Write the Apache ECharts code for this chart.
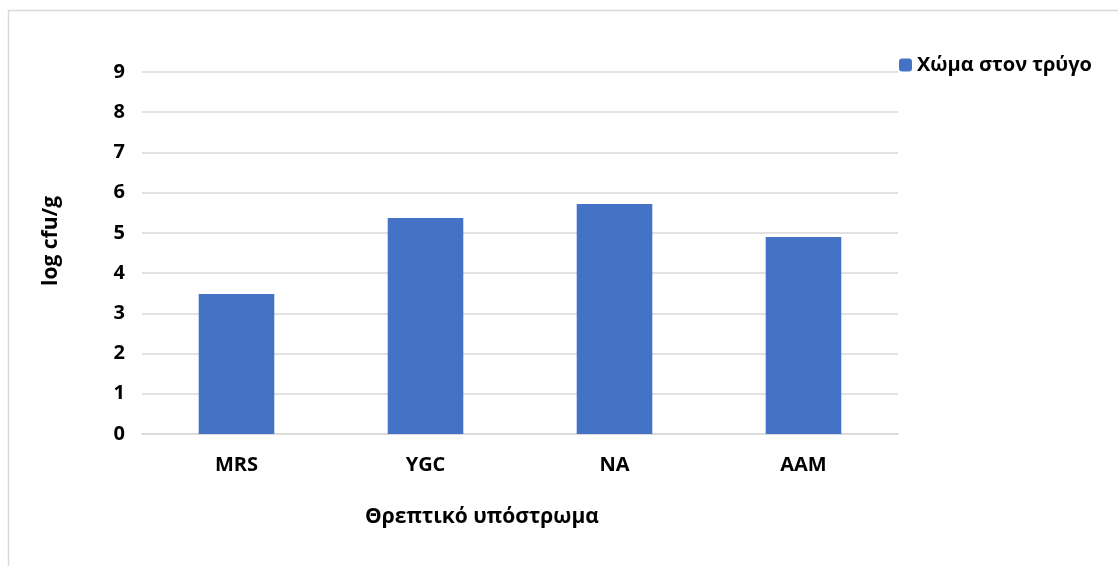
<!DOCTYPE html>
<html>
<head>
<meta charset="utf-8">
<script src="https://cdn.jsdelivr.net/npm/echarts@6/dist/echarts.min.js"></script>
<style>
  html, body { margin: 0; padding: 0; background: #fff; }
  #chart { width: 1118px; height: 566px; }
</style>
</head>
<body>
<div id="chart"></div>
<script>
// Substrates and mean counts (log cfu/g)
const categories = ['MRS', 'YGC', 'NA', 'AAM'];
const soilValues = [3.48, 5.37, 5.72, 4.90];
const seriesName = 'Χώμα στον τρύγο';
const yTitle = 'log cfu/g';
const xTitle = 'Θρεπτικό υπόστρωμα';

const FONT = '"Open Sans", "Noto Sans", sans-serif';
const chart = echarts.init(document.getElementById('chart'));

chart.setOption({
  animation: false,
  backgroundColor: '#ffffff',
  textStyle: { fontFamily: FONT },
  graphic: [{
    type: 'rect',
    shape: { x: 8.5, y: 10.5, width: 1300, height: 700 },
    style: { fill: 'none', stroke: '#d9d9d9', lineWidth: 1.5 },
    silent: true
  }],
  legend: {
    data: [seriesName],
    left: 899,
    top: 55,
    padding: 0,
    itemWidth: 13,
    itemHeight: 13,
    itemGap: 6,
    textStyle: { fontFamily: FONT, fontWeight: 'bold', fontSize: 20, color: '#000' }
  },
  grid: { left: 142, right: 220, top: 72, bottom: 132, containLabel: false },
  xAxis: {
    type: 'category',
    data: categories,
    name: xTitle,
    nameLocation: 'middle',
    nameGap: 73,
    nameTextStyle: { fontFamily: FONT, fontWeight: 'bold', fontSize: 21, color: '#000', padding: [0, 76, 0, 0] },
    axisLine: { show: true, lineStyle: { color: '#d9d9d9', width: 1.5 } },
    axisTick: { show: false },
    axisLabel: { fontFamily: FONT, fontWeight: 'bold', fontSize: 20, color: '#000', margin: 21 }
  },
  yAxis: {
    type: 'value',
    min: 0,
    max: 9,
    interval: 1,
    name: yTitle,
    nameLocation: 'middle',
    nameGap: 80,
    nameRotate: 90,
    nameTextStyle: { fontFamily: FONT, fontWeight: 'bold', fontSize: 21, color: '#000', padding: [0, 0, 0, 24] },
    axisLine: { show: false },
    axisTick: { show: false },
    axisLabel: { fontFamily: FONT, fontWeight: 'bold', fontSize: 20, color: '#000', margin: 17 },
    splitLine: { lineStyle: { color: '#d9d9d9', width: 1.5 } }
  },
  series: [{
    name: seriesName,
    type: 'bar',
    data: soilValues,
    barWidth: '40%',
    itemStyle: { color: '#4472c4' }
  }]
});
</script>
</body>
</html>
